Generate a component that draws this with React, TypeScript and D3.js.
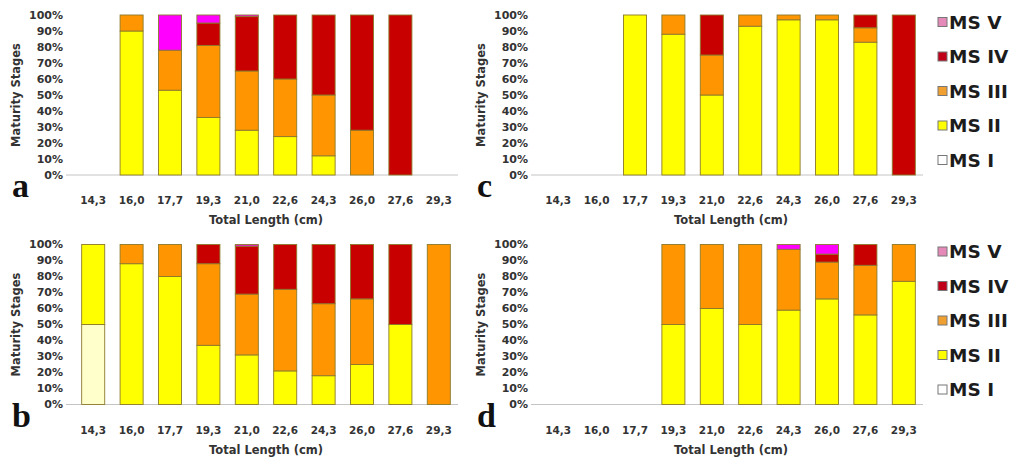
import React from 'react'
import * as d3 from 'd3'

const categories = ['14,3', '16,0', '17,7', '19,3', '21,0', '22,6', '24,3', '26,0', '27,6', '29,3']
const stages = ['MS I', 'MS II', 'MS III', 'MS IV', 'MS V']
const yTicks = [0, 10, 20, 30, 40, 50, 60, 70, 80, 90, 100]

// one array per stage, one value per length class (percent)
const panelA = {
  'MS I': [0, 0, 0, 0, 0, 0, 0, 0, 0, 0],
  'MS II': [0, 90, 53, 36, 28, 24, 12, 0, 0, 0],
  'MS III': [0, 10, 25, 45, 37, 36, 38, 28, 0, 0],
  'MS IV': [0, 0, 0, 14, 34, 40, 50, 72, 100, 0],
  'MS V': [0, 0, 22, 5, 1, 0, 0, 0, 0, 0],
}
const panelB = {
  'MS I': [50, 0, 0, 0, 0, 0, 0, 0, 0, 0],
  'MS II': [50, 88, 80, 37, 31, 21, 18, 25, 50, 0],
  'MS III': [0, 12, 20, 51, 38, 51, 45, 41, 0, 100],
  'MS IV': [0, 0, 0, 12, 30, 28, 37, 34, 50, 0],
  'MS V': [0, 0, 0, 0, 1, 0, 0, 0, 0, 0],
}
const panelC = {
  'MS I': [0, 0, 0, 0, 0, 0, 0, 0, 0, 0],
  'MS II': [0, 0, 100, 88, 50, 93, 97, 97, 83, 0],
  'MS III': [0, 0, 0, 12, 25, 7, 3, 3, 9, 0],
  'MS IV': [0, 0, 0, 0, 25, 0, 0, 0, 8, 100],
  'MS V': [0, 0, 0, 0, 0, 0, 0, 0, 0, 0],
}
const panelD = {
  'MS I': [0, 0, 0, 0, 0, 0, 0, 0, 0, 0],
  'MS II': [0, 0, 0, 50, 60, 50, 59, 66, 56, 77],
  'MS III': [0, 0, 0, 50, 40, 50, 38, 23, 31, 23],
  'MS IV': [0, 0, 0, 0, 0, 0, 0, 5, 13, 0],
  'MS V': [0, 0, 0, 0, 0, 0, 3, 6, 0, 0],
}

const barColors: Record<string, string> = {
  'MS I': '#ffffcc', 'MS II': '#ffff00', 'MS III': '#ff9500', 'MS IV': '#c80000', 'MS V': '#ff00ff',
}
const swatchColors: Record<string, string> = {
  'MS I': '#ffffff', 'MS II': '#ffff00', 'MS III': '#f0a030', 'MS IV': '#c00018', 'MS V': '#e58ab8',
}

const sans = 'DejaVu Sans'
const textColor = '#333'

function Panel(props: { data: Record<string, number[]>, x: number, y: number, letter: string, legend: boolean }) {
  const { data, letter, legend } = props
  const x = d3.scaleBand().domain(categories).range([74, 458]).paddingInner(0.4).paddingOuter(0.2)
  const y = d3.scaleLinear().domain([0, 100]).range([175, 15])

  const rows = categories.map((c, i) => {
    const r: any = { cat: c }
    stages.forEach(s => { r[s] = data[s][i] })
    return r
  })
  const series = d3.stack().keys(stages)(rows)

  return (
    <g transform={`translate(${props.x},${props.y})`}>
      {yTicks.map(t => (
        <text key={t} x={63} y={y(t)} textAnchor="end" dominantBaseline="central"
          fontFamily={sans} fontWeight="bold" fontSize={11} fill={textColor}>{t}%</text>
      ))}
      <line x1={66} x2={458} y1={y(0)} y2={y(0)} stroke="#c4c4c4" strokeWidth={1} />
      {series.map(s => (
        <g key={s.key}>
          {s.map((d, i) => d[1] - d[0] > 0 ? (
            <rect key={i} x={x(categories[i])} width={x.bandwidth()}
              y={y(d[1])} height={y(d[0]) - y(d[1])}
              fill={barColors[s.key]} stroke="#8c7a2c" strokeWidth={0.9} />
          ) : null)}
        </g>
      ))}
      {categories.map(c => (
        <text key={c} x={(x(c) || 0) + x.bandwidth() / 2} y={200} textAnchor="middle" dominantBaseline="central"
          fontFamily={sans} fontWeight="bold" fontSize={10.5} fill={textColor}>{c}</text>
      ))}
      <text x={266} y={220} textAnchor="middle" dominantBaseline="central"
        fontFamily={sans} fontWeight="bold" fontSize={11.5} fill={textColor}>Total Length (cm)</text>
      <text transform={`translate(16,95) rotate(-90)`} textAnchor="middle" dominantBaseline="central"
        fontFamily={sans} fontWeight="bold" fontSize={11.5} fill={textColor}>Maturity Stages</text>
      <text x={12} y={197} fontFamily="Liberation Serif" fontWeight="bold" fontSize={34} fill="#111">{letter}</text>
      {legend && stages.slice().reverse().map((s, i) => (
        <g key={s} transform={`translate(473,${22 + i * 34.5})`}>
          <rect x={0} y={-4.5} width={9} height={9} fill={swatchColors[s]} stroke="#777" strokeWidth={1} />
          <text x={11} y={0} dominantBaseline="central" fontFamily={sans} fontWeight="bold"
            fontSize={18.5} fill="#1c1c1c">{s}</text>
        </g>
      ))}
    </g>
  )
}

export default function App() {
  return (
    <svg width={1016} height={462} style={{ position: 'absolute', left: 0, top: 0, background: '#fff' }}>
      <rect width={1016} height={462} fill="#fff" />
      <Panel data={panelA} x={0} y={0} letter="a" legend={false} />
      <Panel data={panelB} x={0} y={229.5} letter="b" legend={false} />
      <Panel data={panelC} x={465} y={0} letter="c" legend={true} />
      <Panel data={panelD} x={465} y={229.5} letter="d" legend={true} />
    </svg>
  )
}
